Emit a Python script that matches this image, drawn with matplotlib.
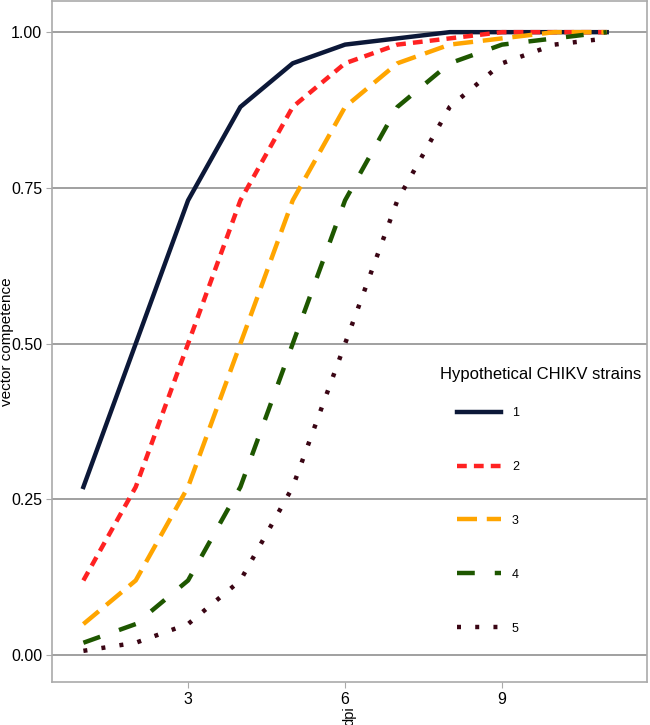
import matplotlib
matplotlib.use("Agg")
import matplotlib.pyplot as plt

plt.rcParams['font.family'] = ['Liberation Sans', 'DejaVu Sans']

dpi_days = [1, 2, 3, 4, 5, 6, 7, 8, 9, 10, 11]
strain1 = [0.27, 0.50, 0.73, 0.88, 0.95, 0.98, 0.99, 1.00, 1.00, 1.00, 1.00]
strain2 = [0.12, 0.27, 0.50, 0.73, 0.88, 0.95, 0.98, 0.99, 1.00, 1.00, 1.00]
strain3 = [0.05, 0.12, 0.27, 0.50, 0.73, 0.88, 0.95, 0.98, 0.99, 1.00, 1.00]
strain4 = [0.02, 0.05, 0.12, 0.27, 0.50, 0.73, 0.88, 0.95, 0.98, 0.99, 1.00]
strain5 = [0.007, 0.02, 0.05, 0.12, 0.27, 0.50, 0.73, 0.88, 0.95, 0.98, 0.99]
labels = ["1", "2", "3", "4", "5"]

fig = plt.figure(figsize=(6.5, 7.25), dpi=100)
ax = fig.add_axes([52 / 650, 43 / 725, 595 / 650, 681 / 725])

ax.plot(dpi_days, strain1, color='#0c1838', lw=3.2, ls='-', label=labels[0])
ax.plot(dpi_days, strain2, color='#ff2222', lw=3.2, ls=(0, (2.2, 1.6)), label=labels[1])
ax.plot(dpi_days, strain3, color='#ffa500', lw=3.2, ls=(0, (4.5, 2.2)), label=labels[2])
ax.plot(dpi_days, strain4, color='#1e5700', lw=3.2, ls=(0, (4.0, 4.5)), label=labels[3])
ax.plot(dpi_days, strain5, color='#3a0514', lw=3.2, ls=(0, (0.9, 3.2)), label=labels[4])

ax.set_xlim(0.4, 11.77)
ax.set_ylim(-0.043, 1.05)
ax.set_xticks([3, 6, 9])
ax.set_yticks([0, 0.25, 0.5, 0.75, 1.0])
ax.set_yticklabels(["0.00", "0.25", "0.50", "0.75", "1.00"])
ax.yaxis.grid(True, color='#999999', lw=1.3)
ax.set_axisbelow(True)
for s in ax.spines.values():
    s.set_color('#aaaaaa')
    s.set_linewidth(1.2)
ax.tick_params(colors='#aaaaaa', labelcolor='black', labelsize=11.5, length=4, pad=3)

ax.set_ylabel("vector competence", fontsize=11)
ax.yaxis.set_label_coords(-0.064, 0.5)
ax.set_xlabel("dpi", fontsize=10.5, rotation=90, va='top')
ax.xaxis.set_label_coords(0.5, -0.036)

# legend title drawn separately so the gap to the first entry is smaller
ax.text(0.652, 0.451, "Hypothetical CHIKV strains", transform=ax.transAxes,
        fontsize=12, ha='left', va='center')
leg = ax.legend(loc='upper left', bbox_to_anchor=(0.672, 0.411), frameon=False,
                fontsize=9, handlelength=3.5, handletextpad=0.9,
                labelspacing=3.35, borderaxespad=0)

fig.savefig("out.png", dpi=100)
